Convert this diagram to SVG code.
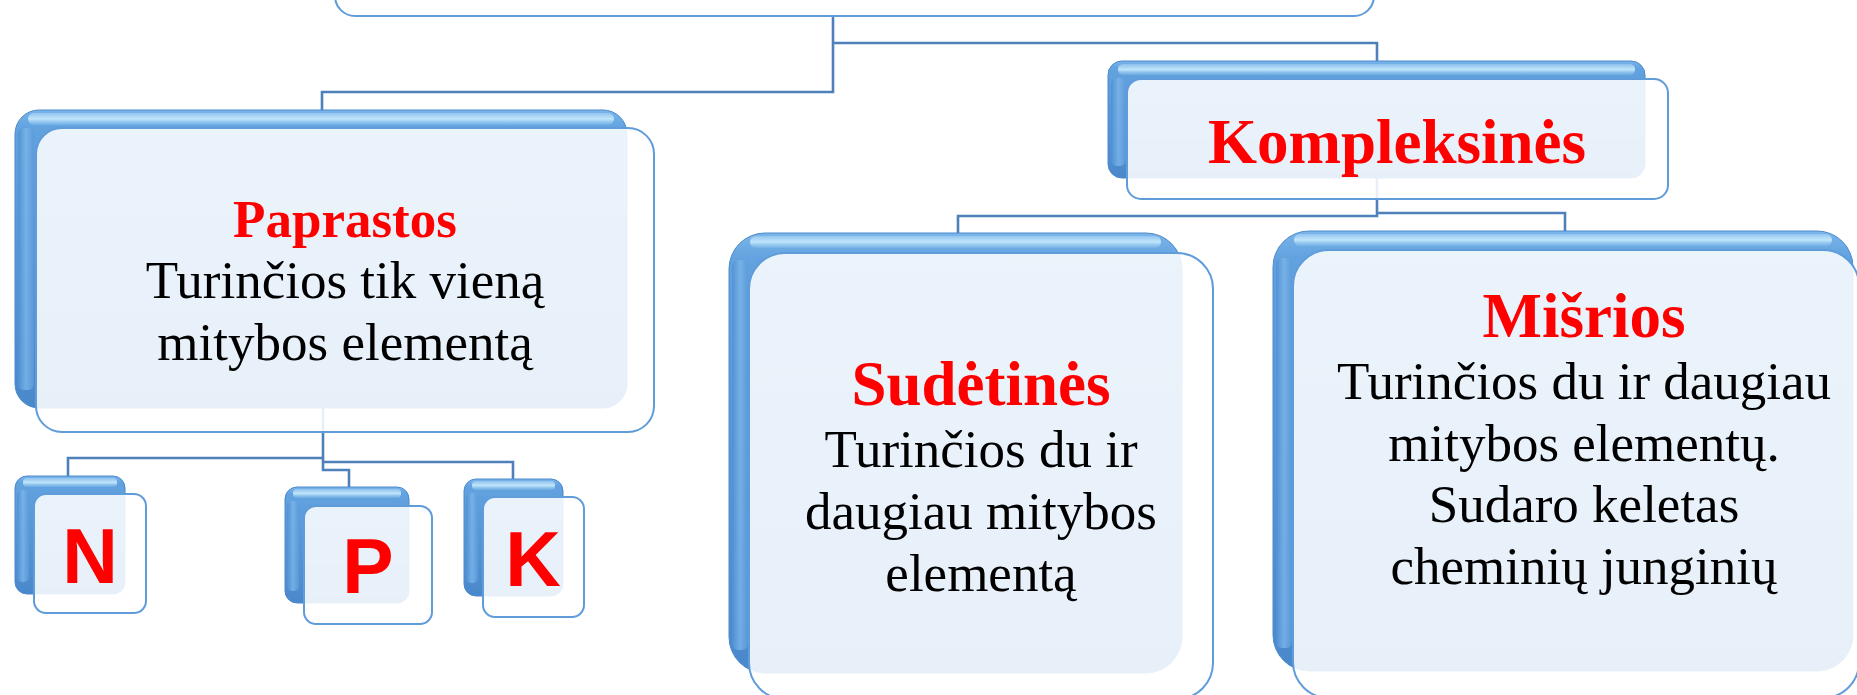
<svg xmlns="http://www.w3.org/2000/svg" width="1857" height="695" viewBox="0 0 1857 695">
<defs>
<linearGradient id="blueG" x1="0" y1="0" x2="0" y2="1">
<stop offset="0" stop-color="#7ab5ea"/>
<stop offset="0.06" stop-color="#62a2df"/>
<stop offset="1" stop-color="#4a88cc"/>
</linearGradient>
<linearGradient id="leftG" x1="0" y1="0" x2="1" y2="0">
<stop offset="0" stop-color="#4f8fd2"/>
<stop offset="0.5" stop-color="#7cb6ea"/>
<stop offset="1" stop-color="#5b9ad8"/>
</linearGradient>
<linearGradient id="hlG" x1="0" y1="0" x2="0" y2="1">
<stop offset="0" stop-color="#d2efff" stop-opacity="0.3"/>
<stop offset="0.5" stop-color="#c4e8fc" stop-opacity="0.95"/>
<stop offset="1" stop-color="#9fd0f4" stop-opacity="0.2"/>
</linearGradient>
<style>
.back{fill:url(#blueG);stroke:#4d8acb;stroke-width:1}
.hl{fill:url(#hlG)}
.lg{fill:url(#leftG);opacity:0.8}
.front{fill:#ffffff;fill-opacity:0.87;stroke:#5f9cd9;stroke-width:2}
.conn{fill:none;stroke:#4e80ba;stroke-width:2.6}
.title{font-family:"Liberation Serif","Times New Roman",serif;font-weight:bold;fill:#ff0000;text-anchor:middle}
.body{font-family:"Liberation Serif","Times New Roman",serif;font-size:53px;fill:#000000;text-anchor:middle}
.letter{font-family:"Liberation Sans",Arial,sans-serif;font-weight:bold;font-size:77px;fill:#ff0000;text-anchor:middle}
</style>
</defs>
<rect width="1857" height="695" fill="#ffffff"/>

<g id="connectors">
<path class="conn" d="M833 16 V92 H322 V110"/>
<path class="conn" d="M833 43 H1377 V61"/>
<path class="conn" d="M1377 178 V216 H958 V233"/>
<path class="conn" d="M1377 213 H1565 V231"/>
<path class="conn" d="M323 408 V470 H349 V487"/>
<path class="conn" d="M323 458 H68 V476"/>
<path class="conn" d="M323 462 H513 V479"/>
</g>

<g id="node-top">
<rect class="front" x="335" y="-80" width="1039" height="96" rx="20"/>
</g>

<g id="node-paprastos">
<rect class="back" x="15" y="110" width="612" height="298" rx="24"/>
<rect class="hl" x="28" y="113" width="586" height="12" rx="6"/>
<rect class="lg" x="18" y="128" width="16" height="262" rx="6"/>
<rect class="front" x="36" y="128" width="618" height="304" rx="26"/>
<text class="title" x="345" y="237" font-size="53">Paprastos</text>
<text class="body" x="345" y="298">Turinčios tik vieną</text>
<text class="body" x="345" y="360">mitybos elementą</text>
</g>

<g id="node-kompleksines">
<rect class="back" x="1108" y="61" width="537" height="117" rx="14"/>
<rect class="hl" x="1118" y="64" width="517" height="11" rx="5"/>
<rect class="lg" x="1111" y="78" width="15" height="88" rx="6"/>
<rect class="front" x="1127" y="79" width="541" height="120" rx="14"/>
<text class="title" x="1397" y="163" font-size="63">Kompleksinės</text>
</g>

<g id="node-sudetines">
<rect class="back" x="729" y="233" width="453" height="440" rx="36"/>
<rect class="hl" x="750" y="236" width="411" height="12" rx="6"/>
<rect class="lg" x="732" y="260" width="16" height="390" rx="6"/>
<rect class="front" x="749" y="253" width="464" height="446" rx="36"/>
<text class="title" x="981" y="405" font-size="63">Sudėtinės</text>
<text class="body" x="981" y="467">Turinčios du ir</text>
<text class="body" x="981" y="529">daugiau mitybos</text>
<text class="body" x="981" y="591">elementą</text>
</g>

<g id="node-misrios">
<rect class="back" x="1273" y="231" width="580" height="440" rx="36"/>
<rect class="hl" x="1294" y="234" width="538" height="12" rx="6"/>
<rect class="lg" x="1276" y="258" width="16" height="390" rx="6"/>
<rect class="front" x="1293" y="250" width="566" height="448" rx="36"/>
<text class="title" x="1584" y="337" font-size="63">Mišrios</text>
<text class="body" x="1584" y="399">Turinčios du ir daugiau</text>
<text class="body" x="1584" y="461">mitybos elementų.</text>
<text class="body" x="1584" y="522">Sudaro keletas</text>
<text class="body" x="1584" y="584">cheminių junginių</text>
</g>

<g id="node-n">
<rect class="back" x="15" y="476" width="110" height="118" rx="12"/>
<rect class="hl" x="23" y="478" width="94" height="9" rx="4"/>
<rect class="lg" x="17" y="490" width="12" height="92" rx="5"/>
<rect class="front" x="34" y="494" width="112" height="119" rx="12"/>
<text class="letter" x="90" y="583">N</text>
</g>

<g id="node-p">
<rect class="back" x="285" y="487" width="124" height="116" rx="12"/>
<rect class="hl" x="293" y="489" width="108" height="9" rx="4"/>
<rect class="lg" x="287" y="501" width="12" height="90" rx="5"/>
<rect class="front" x="304" y="506" width="128" height="118" rx="12"/>
<text class="letter" x="368" y="593">P</text>
</g>

<g id="node-k">
<rect class="back" x="464" y="479" width="99" height="117" rx="12"/>
<rect class="hl" x="472" y="481" width="83" height="9" rx="4"/>
<rect class="lg" x="466" y="493" width="12" height="90" rx="5"/>
<rect class="front" x="483" y="497" width="101" height="120" rx="12"/>
<text class="letter" x="533" y="586">K</text>
</g>
</svg>
